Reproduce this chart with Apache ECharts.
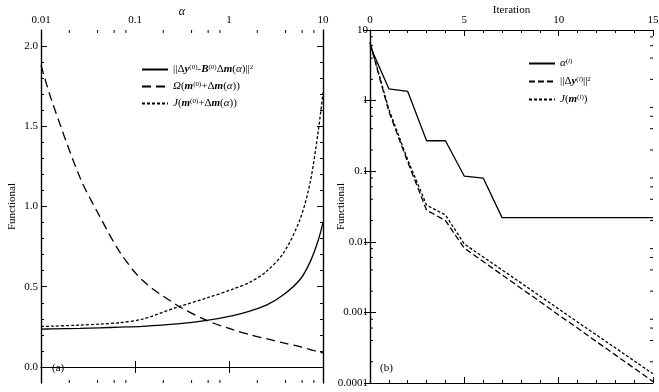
<!DOCTYPE html>
<html>
<head>
<meta charset="utf-8">
<script src="https://cdn.jsdelivr.net/npm/echarts@6/dist/echarts.min.js"></script>
<style>html,body{margin:0;padding:0;background:#fff}#c{width:659px;height:392px}</style>
</head>
<body>
<div id="c"></div>
<script>
// ---- Panel (a) data ----
const alphaValues = [0.01,0.013,0.026,0.042,0.069,0.12,0.28,0.58,1.1,1.7,2.5,3.8,5.7,7.3,8.9,10];
const residualA = [0.236,0.237,0.24,0.244,0.248,0.253,0.268,0.29,0.32,0.35,0.385,0.45,0.545,0.655,0.79,0.90];
const omegaA = [1.88,1.66,1.18,0.94,0.716,0.54,0.385,0.29,0.232,0.2,0.176,0.15,0.126,0.108,0.095,0.087];
const functionalA = [0.252,0.254,0.261,0.267,0.276,0.298,0.372,0.43,0.485,0.53,0.595,0.71,0.92,1.15,1.47,1.71];
const yTicksA = [0, 0.5, 1, 1.5, 2];
const yMinorA = [0.1,0.2,0.3,0.4,0.6,0.7,0.8,0.9,1.1,1.2,1.3,1.4,1.6,1.7,1.8,1.9];
const xMinorA = [0.02,0.04,0.06,0.08,0.2,0.4,0.6,0.8,2,4,6,8];

// ---- Panel (b) data ----
const iterations = [0,1,2,3,4,5,6,7,8,9,10,11,12,13,14,15];
const alphaB = [6.0,1.47,1.35,0.27,0.27,0.085,0.08,0.022,0.022,0.022,0.022,0.022,0.022,0.022,0.022,0.022];
const residualB = [6.6,0.7,0.135,0.028,0.02,0.0081,0.00526,0.0034,0.0022,0.00143,0.00092,0.0006,0.000386,0.00025,0.000162,0.000105];
const functionalB = [6.7,0.75,0.145,0.033,0.024,0.0093,0.0061,0.004,0.00262,0.00171,0.00112,0.00073,0.00048,0.000315,0.000206,0.000135];
const yMinorB = [0.0002,0.0004,0.0006,0.0008,0.002,0.004,0.006,0.008,0.02,0.04,0.06,0.08,0.2,0.4,0.6,0.8,2,4,6,8];
const yLabelsB = {'-4':'0.0001','-3':'0.001','-2':'0.01','-1':'0.1','0':'1','1':'10'};

const FONT = 'Liberation Serif';
const black = '#000';
const axisLine = {show:true, lineStyle:{color:black, width:1.2}};
const noLabel = {show:false};

function logLabel(v){
  const k = String(Math.round(Math.log10(v)));
  return yLabelsB[k] !== undefined ? yLabelsB[k] : String(v);
}

const legendText = {
  r1: '||Δ{bi|y}{sup|(0)}-{bi|B}{sup|(0)}Δ{bi|m}({i|α})||{sup|2}',
  o1: '{i|Ω}({bi|m}{sup|(0)}+Δ{bi|m}({i|α}))',
  j1: '{i|J}({bi|m}{sup|(0)}+Δ{bi|m}({i|α}))',
  a2: '{i|α}{sup|(}{supi|l}{sup|)}',
  r2: '||Δ{bi|y}{sup|(}{supi|l}{sup|)}||{sup|2}',
  j2: '{i|J}({bi|m}{sup|(}{supi|l}{sup|)})'
};
const rich = {
  bi:{fontFamily:FONT, fontSize:11, fontWeight:'bold', fontStyle:'italic', color:black},
  i:{fontFamily:FONT, fontSize:11, fontStyle:'italic', color:black},
  sup:{fontFamily:FONT, fontSize:7, verticalAlign:'top', color:black},
  supi:{fontFamily:FONT, fontSize:7, fontStyle:'italic', verticalAlign:'top', color:black}
};

function pair(xs, ys){ return xs.map((x,i)=>[x, ys[i]]); }

function lineSeries(name, xi, yi, xs, ys, dash, smooth){
  return {
    name, type:'line', xAxisIndex:xi, yAxisIndex:yi, data:pair(xs, ys),
    symbol:'none', smooth: smooth ? 0.3 : false, silent:true,
    itemStyle:{color:black},
    lineStyle:{color:black, width:1.3, type:dash}
  };
}

const legendCommon = {
  orient:'vertical', itemWidth:26, itemHeight:10, padding:0,
  itemStyle:{opacity:0, borderWidth:0},
  formatter:n=>legendText[n],
  textStyle:{fontFamily:FONT, fontSize:11, color:black, rich}
};

const chart = echarts.init(document.getElementById('c'), null, {renderer:'canvas'});
const option = {
  animation:false,
  backgroundColor:'#fff',
  textStyle:{fontFamily:FONT},
  grid:[
    {left:41, top:30, width:282, height:353, containLabel:false, outerBoundsMode:'none'},
    {left:370, top:30, width:283, height:353, containLabel:false, outerBoundsMode:'none'}
  ],
  xAxis:[
    {gridIndex:0, type:'log', logBase:10, min:0.01, max:10, position:'top',
     axisLine, splitLine:{show:false},
     axisTick:{inside:true, length:6, lineStyle:{color:black}},
     axisLabel:{color:black, fontFamily:FONT, fontSize:11, margin:4},
     name:'α', nameLocation:'middle', nameGap:12, nameMoveOverlap:false,
     nameTextStyle:{fontFamily:FONT, fontSize:12, fontStyle:'italic', color:black}},
    {gridIndex:0, type:'log', logBase:10, min:0.01, max:10, position:'bottom',
     axisLine, splitLine:{show:false},
     axisTick:{inside:true, length:6, lineStyle:{color:black}}, axisLabel:noLabel},
    {gridIndex:1, type:'value', min:0, max:15, interval:5, position:'top',
     axisLine, splitLine:{show:false},
     axisTick:{inside:true, length:6, lineStyle:{color:black}},
     minorTick:{show:true, splitNumber:5, length:3, lineStyle:{color:black}},
     axisLabel:{color:black, fontFamily:FONT, fontSize:11, margin:4},
     name:'Iteration', nameLocation:'middle', nameGap:14, nameMoveOverlap:false,
     nameTextStyle:{fontFamily:FONT, fontSize:11, color:black}},
    {gridIndex:1, type:'value', min:0, max:15, interval:5, position:'bottom',
     axisLine, splitLine:{show:false},
     axisTick:{inside:true, length:6, lineStyle:{color:black}},
     minorTick:{show:true, splitNumber:5, length:3, lineStyle:{color:black}},
     axisLabel:noLabel}
  ],
  yAxis:[
    {gridIndex:0, type:'value', min:-0.1, max:2.1, position:'left',
     axisLine, splitLine:{show:false},
     axisTick:{inside:true, length:6, customValues:yTicksA, lineStyle:{color:black}},
     axisLabel:{customValues:yTicksA, color:black, fontFamily:FONT, fontSize:11, margin:3,
       formatter:v=>Number(v).toFixed(1)},
     name:'Functional', nameLocation:'middle', nameGap:23, nameMoveOverlap:false,
     nameTextStyle:{fontFamily:FONT, fontSize:11, color:black}},
    {gridIndex:0, type:'value', min:-0.1, max:2.1, position:'left',
     axisLine, splitLine:{show:false},
     axisTick:{inside:true, length:3, customValues:yMinorA, lineStyle:{color:black}},
     axisLabel:{show:false, customValues:yMinorA}},
    {gridIndex:0, type:'value', min:-0.1, max:2.1, position:'right',
     axisLine, splitLine:{show:false},
     axisTick:{inside:true, length:6, customValues:yTicksA, lineStyle:{color:black}},
     axisLabel:{show:false, customValues:yTicksA}},
    {gridIndex:0, type:'value', min:-0.1, max:2.1, position:'right',
     axisLine, splitLine:{show:false},
     axisTick:{inside:true, length:3, customValues:yMinorA, lineStyle:{color:black}},
     axisLabel:{show:false, customValues:yMinorA}},
    {gridIndex:1, type:'log', logBase:10, min:0.0001, max:10, position:'left',
     axisLine, splitLine:{show:false},
     axisTick:{inside:true, length:6, lineStyle:{color:black}},
     axisLabel:{color:black, fontFamily:FONT, fontSize:11, margin:2, formatter:logLabel},
     name:'Functional', nameLocation:'middle', nameGap:23, nameMoveOverlap:false,
     nameTextStyle:{fontFamily:FONT, fontSize:11, color:black}},
    {gridIndex:1, type:'log', logBase:10, min:0.0001, max:10, position:'right',
     axisLine, splitLine:{show:false},
     axisTick:{inside:true, length:6, lineStyle:{color:black}}, axisLabel:noLabel}
  ],
  legend:[
    Object.assign({data:['r1','o1','j1'], left:141, top:64, itemGap:6}, legendCommon),
    Object.assign({data:['a2','r2','j2'], left:528, top:58, itemGap:7}, legendCommon)
  ],
  series:[
    lineSeries('r1',0,0,alphaValues,residualA,'solid',true),
    lineSeries('o1',0,0,alphaValues,omegaA,[9,5],true),
    lineSeries('j1',0,0,alphaValues,functionalA,[3,2],true),
    lineSeries('a2',2,4,iterations,alphaB,'solid',false),
    lineSeries('r2',2,4,iterations,residualB,[6,3],false),
    lineSeries('j2',2,4,iterations,functionalB,[3,2],false),
    {type:'custom', xAxisIndex:0, yAxisIndex:0, silent:true, clip:false,
     data:xMinorA.map(v=>[v,-0.1]),
     renderItem:(params, api)=>{
       const v = api.value(0);
       const t = api.coord([v, 2.1]); const b = api.coord([v, -0.1]);
       const st = {stroke:black, lineWidth:1};
       return {type:'group', children:[
         {type:'line', shape:{x1:t[0],y1:t[1],x2:t[0],y2:t[1]+3}, style:st},
         {type:'line', shape:{x1:b[0],y1:b[1],x2:b[0],y2:b[1]-3}, style:st}
       ]};
     }},
    {type:'custom', xAxisIndex:2, yAxisIndex:4, silent:true, clip:false,
     data:yMinorB.map(v=>[0,v]),
     renderItem:(params, api)=>{
       const v = api.value(1);
       const l = api.coord([0, v]); const r = api.coord([15, v]);
       const st = {stroke:black, lineWidth:1};
       return {type:'group', children:[
         {type:'line', shape:{x1:l[0],y1:l[1],x2:l[0]+3,y2:l[1]}, style:st},
         {type:'line', shape:{x1:r[0],y1:r[1],x2:r[0]-3,y2:r[1]}, style:st}
       ]};
     }}
  ],
  graphic:[
    {type:'text', left:52, top:363, style:{text:'(a)', fontFamily:FONT, fontSize:11, fill:black}},
    {type:'text', left:380, top:363, style:{text:'(b)', fontFamily:FONT, fontSize:11, fill:black}}
  ]
};
chart.setOption(option);
</script>
</body>
</html>
